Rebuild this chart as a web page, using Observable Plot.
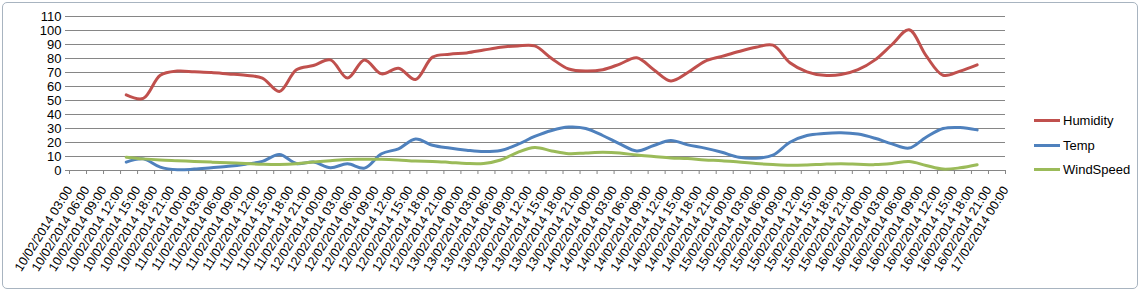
<!DOCTYPE html>
<html>
<head>
<meta charset="utf-8">
<script src="https://cdn.jsdelivr.net/npm/d3@7"></script>
<script src="https://cdn.jsdelivr.net/npm/@observablehq/plot@0.6"></script>
<style>
  html, body { margin: 0; padding: 0; background: #fff; }
  #wrap { position: relative; width: 1141px; height: 292px; overflow: hidden; font-family: "Liberation Sans", Arial, sans-serif; }
  #frame { position: absolute; left: 2px; top: 2px; width: 1134px; height: 285px; border: 1px solid #a8b4c0; border-radius: 5px; pointer-events: none; }
  .leg { position: absolute; left: 1034px; font-size: 13px; color: #000; display: flex; align-items: center; height: 16px; }
  .leg span.sw { display: inline-block; width: 26px; height: 3px; margin-right: 3px; }
</style>
</head>
<body>
<div id="wrap">
  <div id="chart"></div>
  <div id="frame"></div>
  <div id="legend"></div>
</div>
<script>
// ---- Data ----
const seriesNames = ["Humidity", "Temp", "WindSpeed"];
const seriesColors = ["#C0504D", "#4F81BD", "#9BBB59"];

const times = [
  "10/02/2014 13:00","10/02/2014 16:00","10/02/2014 19:00","10/02/2014 22:00",
  "11/02/2014 01:00","11/02/2014 04:00","11/02/2014 07:00","11/02/2014 10:00","11/02/2014 13:00","11/02/2014 16:00","11/02/2014 19:00","11/02/2014 22:00",
  "12/02/2014 01:00","12/02/2014 04:00","12/02/2014 07:00","12/02/2014 10:00","12/02/2014 13:00","12/02/2014 16:00","12/02/2014 19:00","12/02/2014 22:00",
  "13/02/2014 01:00","13/02/2014 04:00","13/02/2014 07:00","13/02/2014 10:00","13/02/2014 13:00","13/02/2014 16:00","13/02/2014 19:00","13/02/2014 22:00",
  "14/02/2014 01:00","14/02/2014 04:00","14/02/2014 07:00","14/02/2014 10:00","14/02/2014 13:00","14/02/2014 16:00","14/02/2014 19:00","14/02/2014 22:00",
  "15/02/2014 01:00","15/02/2014 04:00","15/02/2014 07:00","15/02/2014 10:00","15/02/2014 13:00","15/02/2014 16:00","15/02/2014 19:00","15/02/2014 22:00",
  "16/02/2014 01:00","16/02/2014 04:00","16/02/2014 07:00","16/02/2014 10:00","16/02/2014 13:00","16/02/2014 16:00","16/02/2014 19:00"
];

const humidity = [54,51.5,68,71,70.5,70,69,68,66,56.5,72,75,79,66,79,69,73,65,81,83,84,86,88,89,89,80,72.5,71,72,76,80.5,72,64,70,78,81.5,85,88,89.5,77,70.5,68,68.5,72,79,90,100.5,82,68,71,75.5];
const temp = [6,8.3,2.4,0.5,1,2,3,4.5,6.5,11.4,5,6,2,4.8,1.7,12,15.5,22.5,18,16,14.5,13.5,14.3,18.6,24.3,28.6,31,30,25,19,14,17.9,21.4,18.3,16,13,9.5,8.8,11,20.2,25,26.5,27,26,23,19,16,23.8,30,30.7,29];
const windSpeed = [9.5,8.3,7.5,7,6.5,6,5.5,5,4.5,4.3,4.8,6,7,7.9,8,8,7.5,6.7,6.5,5.8,5,5,7.5,13,16.4,14,12,12.5,13,12.5,11,10,9,8.5,7.5,7,6,5,4.3,3.8,4,4.5,4.8,4.5,4.2,5,6.4,3.6,1,1.9,4.1];

const xTickLabels = [
  "10/02/2014 03:00","10/02/2014 06:00","10/02/2014 09:00","10/02/2014 12:00","10/02/2014 15:00","10/02/2014 18:00","10/02/2014 21:00",
  "11/02/2014 00:00","11/02/2014 03:00","11/02/2014 06:00","11/02/2014 09:00","11/02/2014 12:00","11/02/2014 15:00","11/02/2014 18:00","11/02/2014 21:00",
  "12/02/2014 00:00","12/02/2014 03:00","12/02/2014 06:00","12/02/2014 09:00","12/02/2014 12:00","12/02/2014 15:00","12/02/2014 18:00","12/02/2014 21:00",
  "13/02/2014 00:00","13/02/2014 03:00","13/02/2014 06:00","13/02/2014 09:00","13/02/2014 12:00","13/02/2014 15:00","13/02/2014 18:00","13/02/2014 21:00",
  "14/02/2014 00:00","14/02/2014 03:00","14/02/2014 06:00","14/02/2014 09:00","14/02/2014 12:00","14/02/2014 15:00","14/02/2014 18:00","14/02/2014 21:00",
  "15/02/2014 00:00","15/02/2014 03:00","15/02/2014 06:00","15/02/2014 09:00","15/02/2014 12:00","15/02/2014 15:00","15/02/2014 18:00","15/02/2014 21:00",
  "16/02/2014 00:00","16/02/2014 03:00","16/02/2014 06:00","16/02/2014 09:00","16/02/2014 12:00","16/02/2014 15:00","16/02/2014 18:00","16/02/2014 21:00",
  "17/02/2014 00:00"
];
const yTicks = [0,10,20,30,40,50,60,70,80,90,100,110];

// ---- Build ----
const parse = d3.utcParse("%d/%m/%Y %H:%M");
const seriesValues = [humidity, temp, windSpeed];
const rows = [];
seriesNames.forEach((name, s) => {
  times.forEach((t, i) => rows.push({series: name, time: parse(t), value: seriesValues[s][i]}));
});
const tickDates = xTickLabels.map(parse);
const labelByTime = new Map(tickDates.map((d, i) => [+d, xTickLabels[i]]));

const chart = Plot.plot({
  width: 1141,
  height: 292,
  marginLeft: 69,
  marginRight: 136,
  marginTop: 16,
  marginBottom: 122,
  style: {fontFamily: "Liberation Sans, Arial, sans-serif", color: "#000", background: "transparent"},
  x: {type: "utc", domain: [tickDates[0], tickDates[tickDates.length - 1]]},
  y: {domain: [0, 110]},
  color: {domain: seriesNames, range: seriesColors},
  marks: [
    Plot.gridY(yTicks, {stroke: "#868686", strokeOpacity: 1, strokeWidth: 1}),
    Plot.axisY(yTicks, {tickSize: 4, stroke: "#868686", tickPadding: 4, fontSize: 13, fill: "#000", label: null}),
    Plot.ruleY([0], {stroke: "#868686"}),
    Plot.axisX(tickDates, {tickSize: 4, stroke: "#868686", tickRotate: -58, textAnchor: "end", lineAnchor: "middle", tickPadding: 13, fontSize: 12.5, fill: "#000", label: null, tickFormat: d => labelByTime.get(+d)}),
    Plot.line(rows, {x: "time", y: "value", z: "series", stroke: "series", strokeWidth: 3, curve: "catmull-rom"})
  ]
});
document.getElementById("chart").appendChild(chart);

// legend
const legend = document.getElementById("legend");
const legendTops = [112, 137, 161];
seriesNames.forEach((name, i) => {
  const d = document.createElement("div");
  d.className = "leg";
  d.style.top = legendTops[i] + "px";
  d.innerHTML = `<span class="sw" style="background:${seriesColors[i]}"></span><span>${name}</span>`;
  legend.appendChild(d);
});
</script>
</body>
</html>
